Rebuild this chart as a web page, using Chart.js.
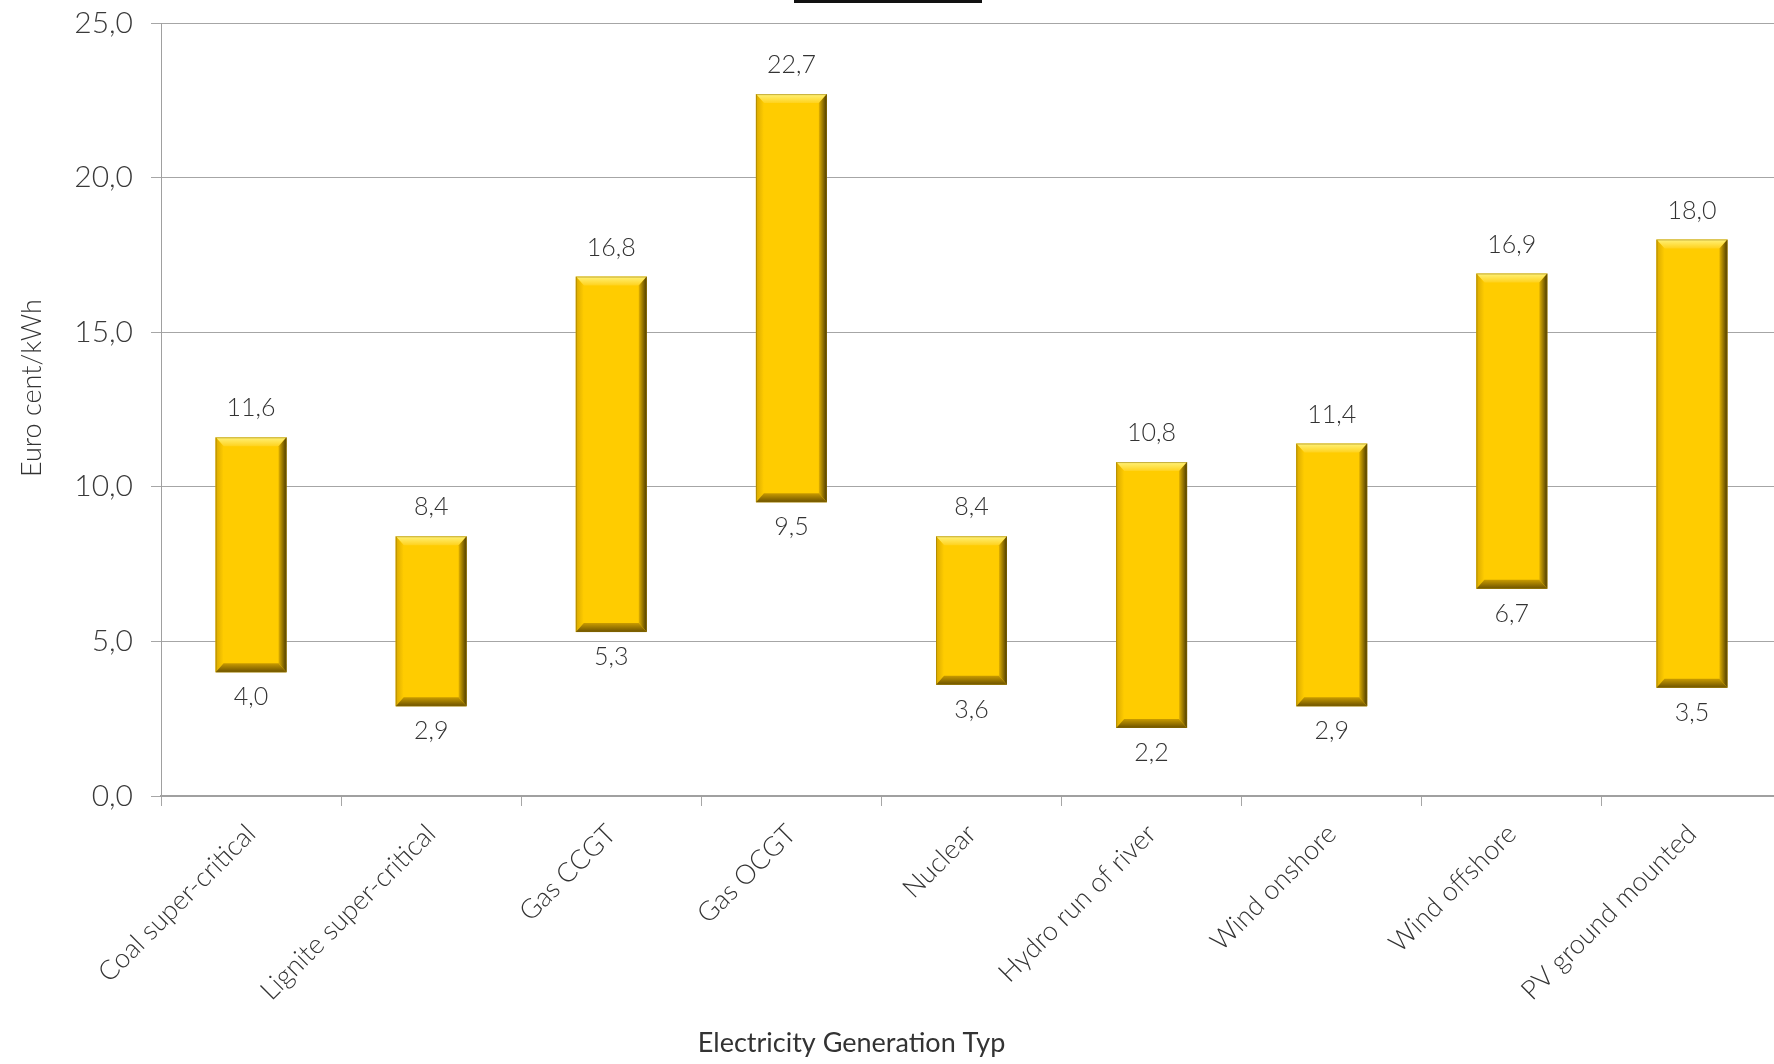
<!DOCTYPE html>
<html>
<head>
<meta charset="utf-8">
<script src="https://cdn.jsdelivr.net/npm/chart.js@4/dist/chart.umd.min.js"></script>
<style>
  html, body { margin: 0; padding: 0; background: #fff; overflow: hidden; }
  #wrap { width: 1782px; height: 1064px; }
</style>
</head>
<body>
<div id="wrap"><canvas id="myChart"></canvas></div>
<script>
// cost ranges, euro cent per kWh
const types = [
    "Coal super-critical",
    "Lignite super-critical",
    "Gas CCGT",
    "Gas OCGT",
    "Nuclear",
    "Hydro run of river",
    "Wind onshore",
    "Wind offshore",
    "PV ground mounted",
];
const costMin = [4.0, 2.9, 5.3, 9.5, 3.6, 2.2, 2.9, 6.7, 3.5];
const costMax = [11.6, 8.4, 16.8, 22.7, 8.4, 10.8, 11.4, 16.9, 18.0];
const yTicks = [0, 5, 10, 15, 20, 25];

const textColor = "#333333";
const fmt = (v) => v.toFixed(1).replace(".", ",");

// gold bevel on each bar
const bevel = {
    id: "bevel",
    afterDatasetsDraw(chart) {
        const c = chart.ctx;
        chart.getDatasetMeta(0).data.forEach((bar) => {
            const x0 = bar.x - bar.width / 2, x1 = bar.x + bar.width / 2;
            const yt = Math.min(bar.y, bar.base), yb = Math.max(bar.y, bar.base);
            const b = 9, s = 8;
            let g;
            c.save();
            // top
            g = c.createLinearGradient(0, yt, 0, yt + b);
            g.addColorStop(0, "#fff27a");
            g.addColorStop(1, "#ffd21c");
            c.fillStyle = g;
            c.beginPath();
            c.moveTo(x0, yt); c.lineTo(x1, yt); c.lineTo(x1 - s, yt + b); c.lineTo(x0 + s, yt + b);
            c.closePath(); c.fill();
            // left
            g = c.createLinearGradient(x0, 0, x0 + s, 0);
            g.addColorStop(0, "#d9a900");
            g.addColorStop(1, "#ffcc00");
            c.fillStyle = g;
            c.beginPath();
            c.moveTo(x0, yt); c.lineTo(x0 + s, yt + b); c.lineTo(x0 + s, yb - b); c.lineTo(x0, yb);
            c.closePath(); c.fill();
            // right
            g = c.createLinearGradient(x1 - s, 0, x1, 0);
            g.addColorStop(0, "#e0b000");
            g.addColorStop(1, "#4a3900");
            c.fillStyle = g;
            c.beginPath();
            c.moveTo(x1, yt); c.lineTo(x1 - s, yt + b); c.lineTo(x1 - s, yb - b); c.lineTo(x1, yb);
            c.closePath(); c.fill();
            // bottom
            g = c.createLinearGradient(0, yb - b, 0, yb);
            g.addColorStop(0, "#c99b00");
            g.addColorStop(1, "#6b5100");
            c.fillStyle = g;
            c.beginPath();
            c.moveTo(x0, yb); c.lineTo(x1, yb); c.lineTo(x1 - s, yb - b); c.lineTo(x0 + s, yb - b);
            c.closePath(); c.fill();
            c.strokeStyle = "rgba(140,110,0,0.5)";
            c.lineWidth = 1;
            c.strokeRect(x0 + 0.5, yt + 0.5, bar.width - 1, yb - yt - 1);
            c.restore();
        });
    },
};

// min / max labels, axis titles and the stray rule at the top
const labels = {
    id: "labels",
    afterDraw(chart) {
        const c = chart.ctx;
        const area = chart.chartArea;
        c.save();
        c.fillStyle = textColor;
        c.textAlign = "center";
        c.textBaseline = "middle";
        c.font = "300 25px Lato";
        chart.getDatasetMeta(0).data.forEach((bar, i) => {
            c.fillText(fmt(costMax[i]), bar.x, bar.y - 29);
            c.fillText(fmt(costMin[i]), bar.x, bar.base + 25);
        });
        c.font = "27px Lato";
        c.fillText("Electricity Generation Typ", area.left + (area.right - area.left) * 0.426, 1043);
        c.translate(32, 388);
        c.rotate(-Math.PI / 2);
        c.font = "300 27px Lato";
        c.fillText("Euro cent/kWh", 0, 0);
        c.restore();
        c.save();
        c.strokeStyle = "#111";
        c.lineWidth = 3;
        c.beginPath();
        c.moveTo(794, 1.5);
        c.lineTo(982, 1.5);
        c.stroke();
        c.restore();
    },
};

let ctx = document.getElementById("myChart").getContext("2d");
let myChart = new Chart(ctx, {
    type: "bar",
    data: {
        labels: types,
        datasets: [
            {
                label: "Cost",
                data: types.map((t, i) => [costMin[i], costMax[i]]),
                backgroundColor: "#ffcc00",
                borderWidth: 0,
                barPercentage: 0.394,
                categoryPercentage: 1,
            },
        ],
    },
    options: {
        responsive: true,
        maintainAspectRatio: false,
        animation: false,
        layout: { padding: { top: 23, left: 0, right: 0, bottom: 0 } },
        plugins: {
            legend: { display: false },
            tooltip: { enabled: false },
        },
        scales: {
            x: {
                grid: {
                    offset: true,
                    drawOnChartArea: false,
                    drawTicks: true,
                    tickLength: 10,
                    color: "#a6a6a6",
                },
                border: { color: "#a0a0a0", width: 2 },
                ticks: {
                    color: textColor,
                    font: { family: "Lato", size: 27, weight: 300 },
                    minRotation: 45,
                    maxRotation: 45,
                    padding: 12,
                    autoSkip: false,
                },
                afterFit(scale) {
                    scale.height = 268;
                    scale.paddingLeft = 0;
                    scale.paddingRight = 0;
                },
            },
            y: {
                min: 0,
                max: 25,
                afterBuildTicks(scale) { scale.ticks = yTicks.map((v) => ({ value: v })); },
                grid: { color: "#a6a6a6", tickLength: 10 },
                border: { color: "#a0a0a0" },
                ticks: {
                    color: "#3a3a3a",
                    font: { family: "Lato", size: 30, weight: 300 },
                    padding: 18,
                    callback: (v) => fmt(v),
                },
                afterFit(scale) {
                    scale.width = 161;
                    scale.paddingTop = 0;
                    scale.paddingBottom = 0;
                },
            },
        },
    },
    plugins: [bevel, labels],
});
</script>
</body>
</html>
